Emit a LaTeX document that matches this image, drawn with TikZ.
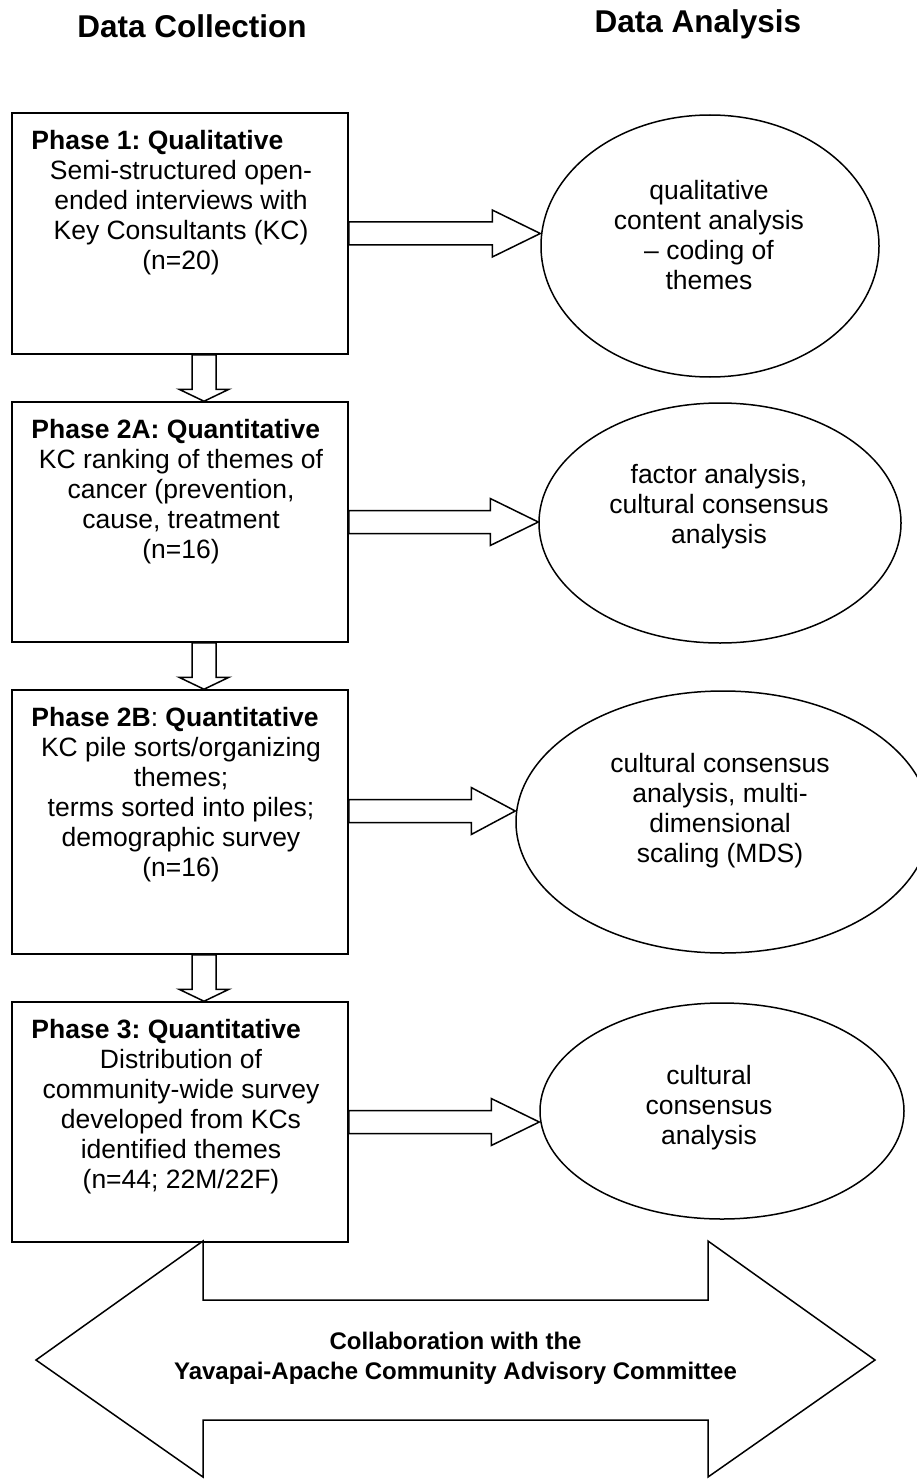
\documentclass[tikz,border=0pt]{standalone}
\usepackage{fontspec}
\setmainfont{Liberation Sans}
\usetikzlibrary{shapes.geometric,calc}
\frenchspacing
\newcommand\harrow[3][48]{% #2 start, #3 tip
  \draw[blk] ($(#2)+(0,-11.5)$) -- ($(#3)+(-#1,-11.5)$) -- ($(#3)+(-#1,-23.5)$) -- (#3)
    -- ($(#3)+(-#1,23.5)$) -- ($(#3)+(-#1,11.5)$) -- ($(#2)+(0,11.5)$) -- cycle;}
\newcommand\varrow[2]{% #1 start, #2 tip
  \draw[blk] ($(#1)+(-12,0)$) -- ($(#2)+(-12,-12)$) -- ($(#2)+(-25,-12)$) -- (#2)
    -- ($(#2)+(25,-12)$) -- ($(#2)+(12,-12)$) -- ($(#1)+(12,0)$) -- cycle;}
\begin{document}
\begin{tikzpicture}[x=1pt,y=-1pt,
  blk/.style={draw=black,line width=1.5pt,fill=white,line join=miter},
  boxnode/.style={draw=black,line width=1.5pt,rectangle,minimum width=336pt,inner sep=0pt},
  ellnode/.style={draw=black,line width=1.5pt,ellipse,inner sep=0pt},
  body/.style={font=\fontsize{26.5}{30}\selectfont,align=center,inner sep=0pt},
  head/.style={font=\bfseries\fontsize{26.5}{30}\selectfont,inner sep=0pt,anchor=base west},
  title/.style={font=\bfseries\fontsize{31.5}{36}\selectfont,inner sep=0pt,anchor=base}]
\useasboundingbox (0,0) rectangle (917,1479);

% titles
\node[title] (ttl1) at (192,37.5) {Data Collection};
\node[title] (ttl2) at (698,32.5) {Data Analysis};

% collaboration double arrow
\draw[blk] (36,1360) -- (203,1241) -- (203,1300) -- (708,1300) -- (708,1241) -- (875,1360)
  -- (708,1477) -- (708,1420) -- (203,1420) -- (203,1477) -- cycle;
\node[font=\bfseries\fontsize{24}{30}\selectfont,align=center,inner sep=0pt] (collab) at (455.5,1358)
  {Collaboration with the\\Yavapai-Apache Community Advisory Committee};

% phase boxes
\node[boxnode,minimum height=241pt] (box1) at (180,233.5) {};
\node[boxnode,minimum height=240pt] (box2) at (180,522) {};
\node[boxnode,minimum height=264pt] (box3) at (180,822) {};
\node[boxnode,minimum height=240pt] (box4) at (180,1122) {};

\node[head] (h1) at ($(box1.north west)+(20,37)$) {Phase 1: Qualitative};
\node[head] (h2) at ($(box2.north west)+(20,37)$) {Phase 2A: Quantitative};
\node[head] (h3) at ($(box3.north west)+(20,37)$) {Phase 2B\mdseries:\bfseries\ Quantitative};
\node[head] (h4) at ($(box4.north west)+(20,37)$) {Phase 3: Quantitative};

\node[body,anchor=north] (b1) at ($(box1.north)+(1,47.5)$)
  {Semi-structured open-\\ended interviews with\\Key Consultants (KC)\\(n=20)};
\node[body,anchor=north] (b2) at ($(box2.north)+(1,47.5)$)
  {KC ranking of themes of\\cancer (prevention,\\cause, treatment\\(n=16)};
\node[body,anchor=north] (b3) at ($(box3.north)+(1,47.5)$)
  {KC pile sorts/organizing\\themes;\\terms sorted into piles;\\demographic survey\\(n=16)};
\node[body,anchor=north] (b4) at ($(box4.north)+(1,47.5)$)
  {Distribution of\\community-wide survey\\developed from KCs\\identified themes\\(n=44; 22M/22F)};

% analysis ellipses
\node[ellnode,minimum width=338pt,minimum height=262pt] (el1) at (710,246) {};
\node[ellnode,minimum width=362pt,minimum height=240pt] (el2) at (720,523) {};
\node[ellnode,minimum width=414pt,minimum height=262pt] (el3) at (723,822) {};
\node[ellnode,minimum width=364pt,minimum height=216pt] (el4) at (722,1111) {};

\node[body] (e1t) at (709,235) {qualitative\\content analysis\\-- coding of\\themes};
\node[body] (e2t) at (719,507) {factor analysis,\\cultural consensus\\analysis};
\node[body] (e3t) at (720,811) {cultural consensus\\analysis, multi-\\dimensional\\scaling (MDS)};
\node[body] (e4t) at (709,1108) {cultural\\consensus\\analysis};

% horizontal block arrows
\coordinate (s1) at (box1.east);
\coordinate (t1) at (el1.west |- s1);
\coordinate (s2) at (box2.east);
\coordinate (t2) at (el2.west |- s2);
\coordinate (s3) at ($(box3.east)+(0,-11)$);
\coordinate (t3) at (el3.west |- s3);
\coordinate (s4) at (box4.east);
\coordinate (t4) at (el4.west |- s4);
\harrow{s1}{t1}
\harrow{s2}{t2}
\harrow[44]{s3}{t3}
\harrow{s4}{t4}

% vertical block arrows
\coordinate (d1s) at ($(box1.south)+(24,0)$);
\coordinate (d1t) at ($(box2.north)+(24,0)$);
\coordinate (d2s) at ($(box2.south)+(24,0)$);
\coordinate (d2t) at ($(box3.north)+(24,0)$);
\coordinate (d3s) at ($(box3.south)+(24,0)$);
\coordinate (d3t) at ($(box4.north)+(24,0)$);
\varrow{d1s}{d1t}
\varrow{d2s}{d2t}
\varrow{d3s}{d3t}
\end{tikzpicture}
\end{document}
